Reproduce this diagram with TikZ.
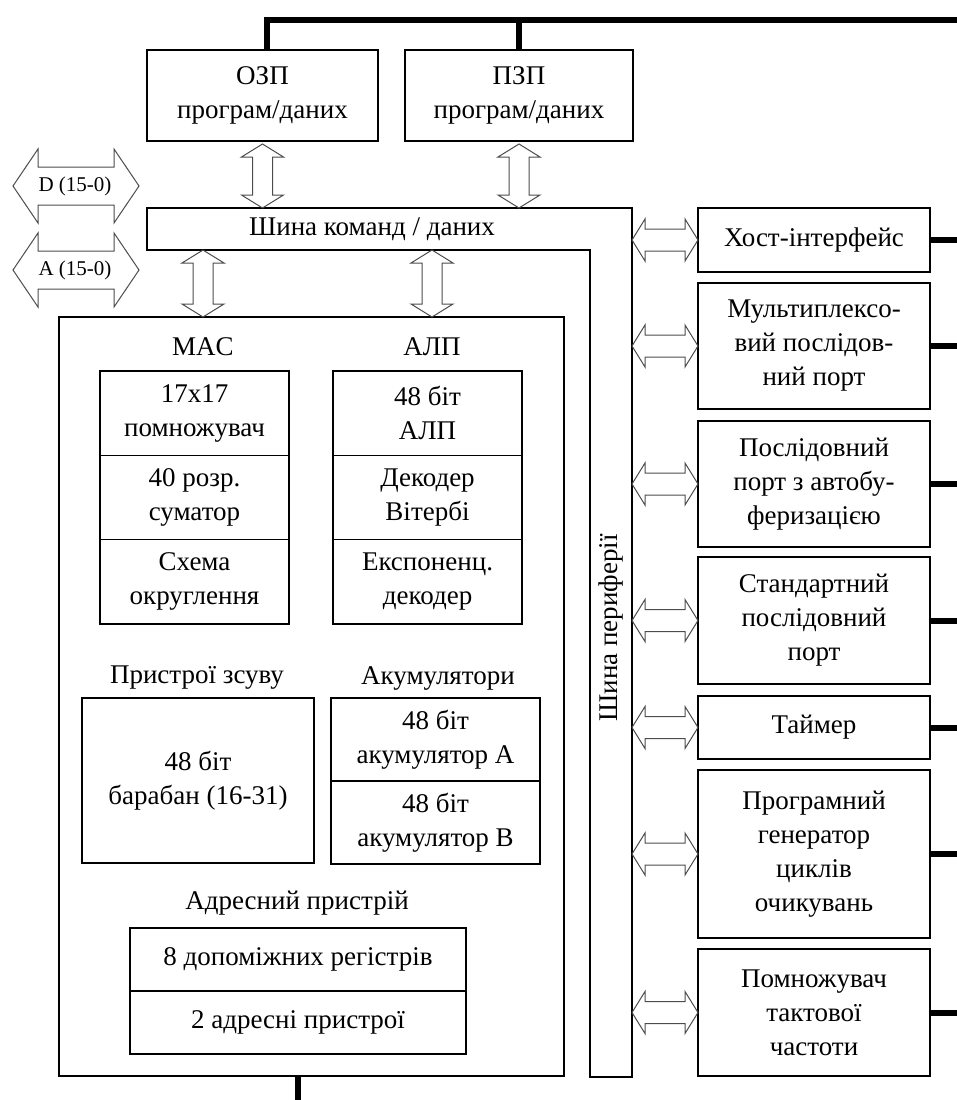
\documentclass[tikz,border=0pt]{standalone}
\usepackage{fontspec}
\setmainfont{Liberation Serif}
\usetikzlibrary{positioning, calc}

\begin{document}
\begin{tikzpicture}[
		x=1pt, y=-1pt,
		font=\fontsize{27}{34}\selectfont,
		line width=1.3pt,
		box/.style={draw, align=center, inner sep=2pt, outer sep=0pt},
		cell/.style={box, minimum width=189pt, minimum height=84.3pt},
		area/.style={inner sep=0pt, outer sep=0pt},
		bus/.style={line width=6pt},
		hbi/.style n args={3}{draw=black!70, line width=1pt, to path={let \p1=(\tikztostart), \p2=(\tikztotarget) in
				(\x1,\y1) -- (\x1+#1,\y1+#2) -- (\x1+#1,\y1+#3) -- (\x2-#1,\y1+#3) -- (\x2-#1,\y1+#2) -- (\x2,\y1)
				-- (\x2-#1,\y1-#2) -- (\x2-#1,\y1-#3) -- (\x1+#1,\y1-#3) -- (\x1+#1,\y1-#2) -- cycle}},
		vbi/.style n args={3}{draw=black!70, line width=1pt, to path={let \p1=(\tikztostart), \p2=(\tikztotarget) in
				(\x1,\y1) -- (\x1+#2,\y1-#1) -- (\x1+#3,\y1-#1) -- (\x1+#3,\y2+#1) -- (\x1+#2,\y2+#1) -- (\x1,\y2)
				-- (\x1-#2,\y2+#1) -- (\x1-#3,\y2+#1) -- (\x1-#3,\y1-#1) -- (\x1-#2,\y1-#1) -- cycle}}
		]
		\useasboundingbox (0,0) rectangle (956,1100);
		
		% Memory
		\node[box, minimum width=231pt, minimum height=91pt] (ram) at (262.5,95.5) {ОЗП\\програм/даних};
		\node[box, minimum width=228pt, minimum height=91pt] (rom) at (519,95.5) {ПЗП\\програм/даних};
		
		% Command/data bus and peripheral bus
		\node[area, minimum width=443pt, minimum height=42pt] (cmdbus) at (372,229) {Шина команд / даних};
		\node[area, minimum width=42pt, minimum height=869pt] (perbus) at (611,642.5) {};
		\node[rotate=90] (perbustxt) at (611,628) {Шина периферії};
		\draw (cmdbus.north west -| ram.west) -- (perbus.north east) -- (perbus.south east) -- (perbus.south west)
			-- (perbus.west |- cmdbus.south) -- (cmdbus.south west -| ram.west) -- cycle;
		
		% External data / address ports
		\coordinate (dleft) at (13,186);
		\coordinate (dright) at (139,186);
		\coordinate (aleft) at (13,270);
		\coordinate (aright) at (139,270);
		\draw[hbi={25pt}{37pt}{19pt}] (dleft) to (dright);
		\draw[hbi={25pt}{37pt}{19pt}] (aleft) to (aright);
		\node[font=\fontsize{21}{25}\selectfont] (dlbl) at (75,186) {D (15-0)};
		\node[font=\fontsize{21}{25}\selectfont] (albl) at (75,270) {A (15-0)};
		
		% CPU core
		\node[box, minimum width=505pt, minimum height=759pt] (core) at (311.5,696.5) {};
		
		% MAC and ALU
		\node (maclbl) at (203,347) {MAC};
		\node (alulbl) at (432,347) {АЛП};
		\node[cell] (mul) at (194.5,413.2) {17x17\\помножувач};
		\node[cell, below=0pt of mul] (adder) {40 розр.\\суматор};
		\node[cell, below=0pt of adder] (rnd) {Схема\\округлення};
		\node[cell] (alu) at (427.5,413.2) {48 біт\\АЛП};
		\node[cell, below=0pt of alu] (viterbi) {Декодер\\Вітербі};
		\node[cell, below=0pt of viterbi] (expdec) {Експоненц.\\декодер};
		
		% Shifter and accumulators
		\node (shlbl) at (197,678) {Пристрої зсуву};
		\node[box, minimum width=232pt, minimum height=165pt] (barrel) at (198,780.5) {48 біт\\барабан (16-31)};
		\node (acclbl) at (438,678) {Акумулятори};
		\node[box, minimum width=209pt, minimum height=83pt] (acca) at (435.5,739.5) {48 біт\\акумулятор А};
		\node[box, minimum width=209pt, minimum height=83pt, below=0pt of acca] (accb) {48 біт\\акумулятор В};
		
		% Address unit
		\node (addrlbl) at (297,903) {Адресний пристрій};
		\node[box, minimum width=336pt, minimum height=63pt] (auxreg) at (298,959.5) {8 допоміжних регістрів};
		\node[box, minimum width=336pt, minimum height=63pt, below=0pt of auxreg] (agu) {2 адресні пристрої};
		
		% Peripherals
		\node[box, minimum width=232pt, minimum height=64pt] (host) at (814,240) {Хост-інтерфейс};
		\node[box, minimum width=232pt, minimum height=126pt] (mux) at (814,346) {Мультиплексо-\\вий послідов-\\ний порт};
		\node[box, minimum width=232pt, minimum height=126pt] (sport) at (814,484) {Послідовний\\порт з автобу-\\феризацією};
		\node[box, minimum width=232pt, minimum height=127pt] (stdport) at (814,620.5) {Стандартний\\послідовний\\порт};
		\node[box, minimum width=232pt, minimum height=63pt] (timer) at (814,727.5) {Таймер};
		\node[box, minimum width=232pt, minimum height=168pt] (waitgen) at (814,854) {Програмний\\генератор\\циклів\\очикувань};
		\node[box, minimum width=232pt, minimum height=127pt] (clkmul) at (814,1012.5) {Помножувач\\тактової\\частоти};
		
		% Bus arrows
		\draw[vbi={13pt}{21pt}{10pt}] ([yshift=-3pt]ram.south) to (ram.south |- cmdbus.north);
		\draw[vbi={13pt}{21pt}{10pt}] ([yshift=-3pt]rom.south) to (rom.south |- cmdbus.north);
		\draw[vbi={13pt}{21pt}{10pt}] (maclbl.north |- cmdbus.south) to (maclbl.north |- core.north);
		\draw[vbi={13pt}{21pt}{10pt}] (alulbl.north |- cmdbus.south) to (alulbl.north |- core.north);
		\foreach \dev in {host, mux, sport, stdport, timer, waitgen, clkmul}
			\draw[hbi={13pt}{21pt}{11pt}] (perbus.east |- \dev.west) to (\dev.west);
		
		% External buses
		\coordinate (rightedge) at (960,0);
		\coordinate (topbus) at (0,20);
		\coordinate (botedge) at (0,1104);
		\draw[bus] ([xshift=4pt]ram.north) |- (rightedge |- topbus);
		\draw[bus] (rom.north) -- (rom.north |- topbus);
		\foreach \dev in {host, mux, sport, stdport, timer, waitgen, clkmul}
			\draw[bus] (\dev.east) -- (\dev.east -| rightedge);
		\draw[bus] (agu.south |- core.south) -- (agu.south |- botedge);
		
	\end{tikzpicture}
\end{document}
